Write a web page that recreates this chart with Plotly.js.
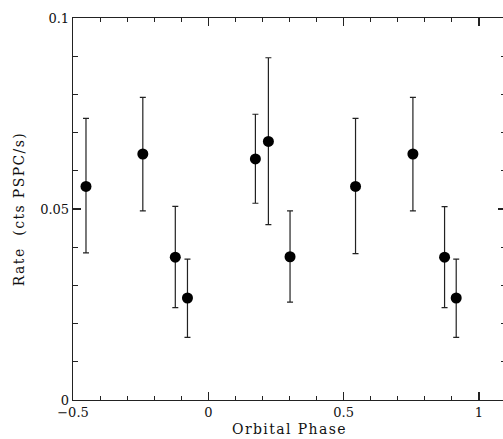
<!DOCTYPE html>
<html><head><meta charset="utf-8">
<script src="https://cdn.plot.ly/plotly-3.0.1.min.js"></script>
<style>html,body{margin:0;padding:0;overflow:hidden;background:#fff}
.xtitle,.ytitle{letter-spacing:1.4px}</style>
</head><body><div id="chart"></div>
<script>
const phase = [-0.452, -0.242, -0.122, -0.077, 0.174, 0.222, 0.302, 0.544, 0.756, 0.873, 0.916];
const rate  = [0.0559, 0.0644, 0.0374, 0.0267, 0.0631, 0.0677, 0.0375, 0.0559, 0.0644, 0.0374, 0.0267];
const errUp = [0.0737, 0.0792, 0.0507, 0.0369, 0.0748, 0.0896, 0.0495, 0.0737, 0.0792, 0.0506, 0.0369];
const errLo = [0.0385, 0.0495, 0.0242, 0.0164, 0.0515, 0.0459, 0.0256, 0.0383, 0.0495, 0.0242, 0.0164];
const xTickVals = [-0.5, 0, 0.5, 1];
const xTickText = ['\u22120.5', '0', '0.5', '1'];
const yTickVals = [0, 0.05, 0.1];
const yTickText = ['0', '0.05', '0.1'];

const plus = rate.map((r, i) => errUp[i] - r);
const minus = rate.map((r, i) => r - errLo[i]);

const font = {family: 'DejaVu Serif, serif', size: 13, color: '#111'};
const titleFont = {family: 'DejaVu Serif, serif', size: 14, color: '#111'};
const axisCommon = {
  showline: true, linecolor: '#222', linewidth: 1.3, mirror: 'ticks',
  ticks: 'inside', ticklen: 8, tickcolor: '#222', tickwidth: 1.2,
  showgrid: false, zeroline: false, tickfont: font, tickmode: 'array'
};
const data = [{
  x: phase, y: rate, type: 'scatter', mode: 'markers',
  marker: {color: '#000', size: 11},
  error_y: {type: 'data', symmetric: false, array: plus, arrayminus: minus,
            color: '#222', thickness: 1.2, width: 3}
}];
const layout = {
  width: 506, height: 439,
  margin: {l: 73, r: 0, t: 18, b: 39},
  paper_bgcolor: '#fff', plot_bgcolor: '#fff',
  showlegend: false, font: font,
  xaxis: Object.assign({}, axisCommon, {
    range: [-0.5, 1.1], tickvals: xTickVals, ticktext: xTickText,
    minor: {tickmode: 'linear', tick0: -0.5, dtick: 0.1, ticks: 'inside', ticklen: 4, tickcolor: '#222', tickwidth: 1},
    title: {text: 'Orbital Phase', font: titleFont, standoff: 5}
  }),
  yaxis: Object.assign({}, axisCommon, {
    range: [0, 0.1], tickvals: yTickVals, ticktext: yTickText,
    minor: {tickmode: 'linear', tick0: 0, dtick: 0.01, ticks: 'inside', ticklen: 5, tickcolor: '#222', tickwidth: 1},
    title: {text: 'Rate  (cts PSPC/s)', font: titleFont, standoff: 12}
  })
};
Plotly.newPlot('chart', data, layout, {staticPlot: true, displayModeBar: false});
</script></body></html>
